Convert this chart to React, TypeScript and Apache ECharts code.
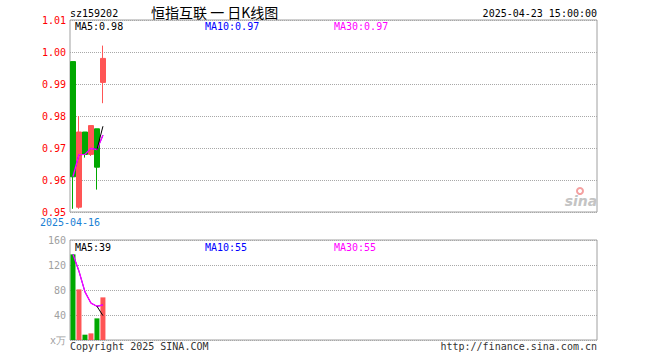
import React, { useEffect, useRef } from "react";
import * as echarts from "echarts";

// ---- data ----
const dates = ["2025-04-16", "2025-04-17", "2025-04-18", "2025-04-21", "2025-04-22", "2025-04-23"];
const SLOTS = 88;
// [open, close, low, high]
const kData: number[][] = [
  [0.997, 0.961, 0.951, 0.997],
  [0.9515, 0.975, 0.951, 0.980],
  [0.975, 0.968, 0.967, 0.975],
  [0.968, 0.977, 0.9675, 0.977],
  [0.976, 0.964, 0.957, 0.976],
  [0.9905, 0.998, 0.984, 1.002],
];
const ma5: (number | null)[] = [null, null, null, null, 0.9695, 0.9768];
const ma10: (number | null)[] = [0.9611, 0.9679, 0.968, 0.9699, 0.9695, 0.974];
const ma30: (number | null)[] = [0.9611, 0.9679, 0.968, 0.9699, 0.9695, 0.974];
const volumes: number[] = [137, 81, 8.5, 10.6, 34.6, 68.2];
const volMa5: (number | null)[] = [null, null, null, null, 54, 39];
const volMa10: (number | null)[] = [137, 110, 77, 59, 54, 56];
const volMa30: (number | null)[] = [137, 110, 77, 59, 54, 56];
const mainMaText = ["0.98", "0.97", "0.97"];
const volMaText = ["39", "55", "55"];
const priceTicks = { min: 0.95, max: 1.01, interval: 0.01 };
const volTicks = { min: 0, max: 160, interval: 40 };
const code = "sz159202";
const title = "恒指互联 一 日K线图";
const timestamp = "2025-04-23 15:00:00";

const UP = "#ff5555";
const DOWN = "#00a800";
const MONO = "DejaVu Sans Mono";

export default function App() {
  const ref = useRef<HTMLDivElement>(null);
  useEffect(() => {
    if (!ref.current) return;
    const chart = echarts.init(ref.current, undefined, { renderer: "svg" });
    const cats: string[] = [];
    for (let i = 0; i < SLOTS; i++) cats.push(i < dates.length ? dates[i] : "slot" + i);

    const volData = volumes.map((v, i) => ({
      value: v,
      itemStyle: { color: kData[i][1] >= kData[i][0] ? UP : DOWN },
    }));

    const txt = (x: number, y: number, text: string, fill: string, extra: any = {}) => ({
      type: "text",
      x,
      y,
      silent: true,
      style: {
        text,
        fill,
        font: `10px "${MONO}"`,
        textVerticalAlign: "middle",
        ...extra,
      },
    });

    const option: any = {
      animation: false,
      backgroundColor: "#ffffff",
      grid: [
        { left: 70, top: 20, width: 527, height: 192, show: true, borderColor: "#a0a0a0", borderWidth: 1, backgroundColor: "transparent" },
        { left: 70, top: 240, width: 527, height: 100, show: true, borderColor: "#a0a0a0", borderWidth: 1, backgroundColor: "transparent" },
      ],
      xAxis: [
        { type: "category", gridIndex: 0, data: cats, boundaryGap: true, axisLine: { show: false }, axisTick: { show: false }, axisLabel: { show: false }, splitLine: { show: false } },
        { type: "category", gridIndex: 1, data: cats, boundaryGap: true, axisLine: { show: false }, axisTick: { show: false }, axisLabel: { show: false }, splitLine: { show: false } },
      ],
      yAxis: [
        {
          type: "value",
          gridIndex: 0,
          min: priceTicks.min,
          max: priceTicks.max,
          interval: priceTicks.interval,
          axisLine: { show: false },
          axisTick: { show: false },
          axisLabel: { color: "#ff0000", fontFamily: MONO, fontSize: 10, margin: 4, formatter: (v: number) => v.toFixed(2) },
          splitLine: { show: true, lineStyle: { color: "#a8a8a8", type: [1, 1], width: 1 } },
        },
        {
          type: "value",
          gridIndex: 1,
          min: volTicks.min,
          max: volTicks.max,
          interval: volTicks.interval,
          axisLine: { show: false },
          axisTick: { show: false },
          axisLabel: {
            color: "#a0a0a0",
            fontFamily: MONO,
            fontSize: 10,
            margin: 4,
            formatter: (v: number) => (v === 0 ? "x万" : String(v)),
          },
          splitLine: { show: true, lineStyle: { color: "#a8a8a8", type: [1, 1], width: 1 } },
        },
      ],
      series: [
        {
          type: "candlestick",
          xAxisIndex: 0,
          yAxisIndex: 0,
          data: kData,
          barWidth: 5,
          itemStyle: { color: UP, color0: DOWN, borderColor: UP, borderColor0: DOWN, borderWidth: 1 },
        },
        { type: "line", xAxisIndex: 0, yAxisIndex: 0, data: ma10, symbol: "none", lineStyle: { color: "#0000ff", width: 1 } },
        { type: "line", xAxisIndex: 0, yAxisIndex: 0, data: ma30, symbol: "none", lineStyle: { color: "#ff00ff", width: 1.3 } },
        { type: "line", xAxisIndex: 0, yAxisIndex: 0, data: ma5, symbol: "none", lineStyle: { color: "#000000", width: 1 }, connectNulls: false },
        { type: "bar", xAxisIndex: 1, yAxisIndex: 1, data: volData, barWidth: 5 },
        { type: "line", xAxisIndex: 1, yAxisIndex: 1, data: volMa10, symbol: "none", lineStyle: { color: "#0000ff", width: 1 } },
        { type: "line", xAxisIndex: 1, yAxisIndex: 1, data: volMa30, symbol: "none", lineStyle: { color: "#ff00ff", width: 1.3 } },
        { type: "line", xAxisIndex: 1, yAxisIndex: 1, data: volMa5, symbol: "none", lineStyle: { color: "#000000", width: 1 } },
      ],
      graphic: [
        txt(70, 13, code, "#000000"),
        {
          type: "text",
          x: 151,
          y: 12,
          silent: true,
          style: { text: title, fill: "#000000", font: '14px "Noto Sans CJK SC"', textVerticalAlign: "middle" },
        },
        txt(597, 13, timestamp, "#000000", { textAlign: "right" }),
        txt(75, 26, "MA5:" + mainMaText[0], "#000000"),
        txt(205, 26, "MA10:" + mainMaText[1], "#0000ff"),
        txt(334, 26, "MA30:" + mainMaText[2], "#ff00ff"),
        txt(75, 247, "MA5:" + volMaText[0], "#000000"),
        txt(205, 247, "MA10:" + volMaText[1], "#0000ff"),
        txt(334, 247, "MA30:" + volMaText[2], "#ff00ff"),
        txt(70, 222, dates[0], "#1a7fd4", { textAlign: "center" }),
        txt(70, 346, "Copyright 2025 SINA.COM", "#333333"),
        txt(597, 346, "http://finance.sina.com.cn", "#333333", { textAlign: "right" }),
        {
          type: "ring",
          silent: true,
          shape: { cx: 580, cy: 191, r: 4, r0: 2 },
          style: { fill: "#f4a0a0" },
        },
        {
          type: "text",
          x: 581,
          y: 201,
          silent: true,
          style: {
            text: "sina",
            fill: "#c4c4c4",
            font: 'italic bold 14px "DejaVu Sans"',
            textAlign: "center",
            textVerticalAlign: "middle",
          },
        },
      ],
    };
    chart.setOption(option);
    return () => chart.dispose();
  }, []);
  return <div ref={ref} style={{ position: "absolute", left: 0, top: 0, width: 660, height: 360 }} />;
}
